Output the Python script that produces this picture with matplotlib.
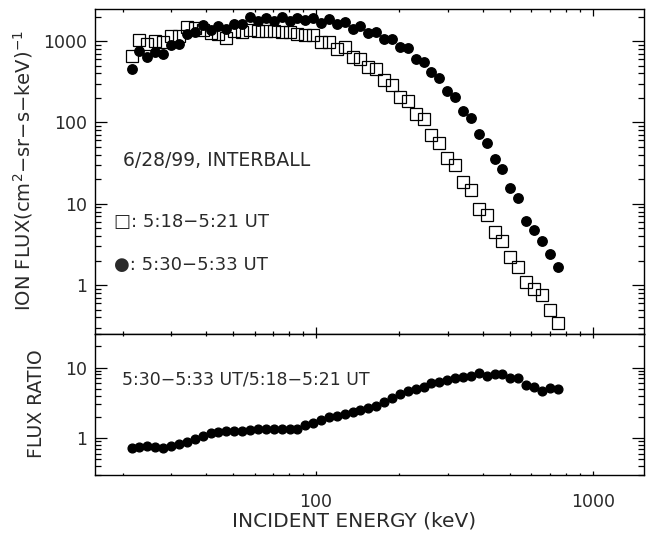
import matplotlib
matplotlib.use("Agg")
import matplotlib.pyplot as plt
from matplotlib.ticker import LogLocator, NullFormatter, FixedLocator, FixedFormatter

# ---------------- data ----------------
energy_keV = [21.6, 23.0, 24.6, 26.3, 28.1, 30.0, 32.0, 34.2, 36.5, 39.0,
              41.6, 44.4, 47.4, 50.6, 54.1, 57.7, 61.7, 65.8, 70.3, 75.1,
              80.2, 85.6, 91.4, 97.6, 104.2, 111.3, 118.9, 126.9, 135.5, 144.7,
              154.5, 165.0, 176.2, 188.1, 200.9, 214.5, 229.1, 244.6, 261.2, 278.9,
              297.8, 318.0, 339.6, 362.6, 387.3, 413.5, 441.6, 471.5, 503.5, 537.7,
              574.1, 613.1, 654.6, 699.0, 746.4]

flux_0518 = [649, 1040, 929, 1000, 972, 1142, 1142, 1486, 1460, 1380,
             1254, 1232, 1101, 1327, 1290, 1380, 1327, 1327, 1327, 1280,
             1290, 1232, 1175, 1175, 972, 972, 807, 844, 636, 608,
             480, 458, 329, 291, 205, 181, 128, 110, 69.5, 56.5,
             37.0, 29.7, 18.5, 14.9, 8.73, 7.22, 4.50, 3.49, 2.22, 1.67,
             1.09, 0.89, 0.75, 0.50, 0.34]

flux_0530 = [458, 753, 636, 733, 700, 885, 929, 1232, 1290, 1560,
             1353, 1516, 1420, 1636, 1603, 1972, 1761, 1938, 1761, 1972,
             1761, 1938, 1795, 1938, 1665, 1884, 1603, 1712, 1420, 1516,
             1254, 1290, 1070, 1070, 844, 820, 608, 552, 416, 351,
             243, 205, 137, 114, 71.4, 55.9, 35.6, 27.1, 15.4, 11.8,
             6.15, 4.72, 3.49, 2.44, 1.67]

flux_ratio = [0.72, 0.74, 0.77, 0.74, 0.73, 0.76, 0.81, 0.88, 0.95, 1.06,
              1.16, 1.22, 1.25, 1.25, 1.26, 1.29, 1.32, 1.32, 1.35, 1.35,
              1.35, 1.35, 1.52, 1.64, 1.79, 1.96, 2.04, 2.18, 2.33, 2.49,
              2.63, 2.84, 3.27, 3.65, 4.21, 4.69, 4.90, 5.24, 5.98, 6.31,
              6.67, 7.05, 7.44, 7.69, 8.32, 7.69, 8.05, 8.05, 7.05, 7.05,
              5.66, 5.35, 4.69, 5.08, 4.90]

top_yticks = [1, 10, 100, 1000]
top_yticklabels = ["1", "10", "100", "1000"]
bot_yticks = [1, 10]
bot_yticklabels = ["1", "10"]
xticks = [100, 1000]
xticklabels = ["100", "1000"]

# ---------------- figure ----------------
W, H = 647, 547
plt.rcParams['font.family'] = ['DejaVu Sans']
plt.rcParams['mathtext.fontset'] = 'dejavusans'
TXT = '#2a2a2a'
FS = 12.5

fig = plt.figure(figsize=(W / 100, H / 100), dpi=100)

def px(x0, y0, x1, y1):
    return [x0 / W, 1 - y1 / H, (x1 - x0) / W, (y1 - y0) / H]

ax1 = fig.add_axes(px(95, 8.7, 644, 334))
ax2 = fig.add_axes(px(95, 334, 644, 474.7))

for ax in (ax1, ax2):
    ax.set_xscale('log')
    ax.set_yscale('log')
    ax.set_xlim(15.9, 1530)
    for s in ax.spines.values():
        s.set_linewidth(1.0)
        s.set_color('black')
    ax.xaxis.set_major_locator(FixedLocator(xticks))
    ax.xaxis.set_minor_locator(LogLocator(base=10, subs=range(2, 10), numticks=20))
    ax.yaxis.set_minor_locator(LogLocator(base=10, subs=range(2, 10), numticks=20))
    ax.xaxis.set_minor_formatter(NullFormatter())
    ax.yaxis.set_minor_formatter(NullFormatter())

# top panel
ax1.set_ylim(0.25, 2500)
ax1.plot(energy_keV, flux_0518, linestyle='none', marker='s', markersize=8.5,
         markerfacecolor='none', markeredgecolor='black', markeredgewidth=0.9)
ax1.plot(energy_keV, flux_0530, linestyle='none', marker='o', markersize=6.8,
         markerfacecolor='black', markeredgecolor='black')
ax1.yaxis.set_major_locator(FixedLocator(top_yticks))
ax1.yaxis.set_major_formatter(FixedFormatter(top_yticklabels))
ax1.tick_params(axis='x', which='both', direction='in', top=True, bottom=True,
                labelbottom=False, width=0.9)
ax1.tick_params(axis='x', which='major', length=5)
ax1.tick_params(axis='x', which='minor', length=2.5)
ax1.tick_params(axis='y', which='both', direction='in', left=True, right=True,
                width=0.9, labelsize=FS, labelcolor=TXT, pad=6)
ax1.tick_params(axis='y', which='major', length=8.5)
ax1.tick_params(axis='y', which='minor', length=4)

# bottom panel
ax2.set_ylim(0.3, 30)
ax2.plot(energy_keV, flux_ratio, linestyle='none', marker='o', markersize=6.3,
         markerfacecolor='black', markeredgecolor='black')
ax2.yaxis.set_major_locator(FixedLocator(bot_yticks))
ax2.yaxis.set_major_formatter(FixedFormatter(bot_yticklabels))
ax2.xaxis.set_major_formatter(FixedFormatter(xticklabels))
ax2.tick_params(axis='x', which='both', direction='in', top=True, bottom=True,
                width=0.9, labelsize=FS, labelcolor=TXT, pad=13)
ax2.tick_params(axis='x', which='major', length=3)
ax2.tick_params(axis='x', which='minor', length=1.5)
ax2.tick_params(axis='y', which='both', direction='in', left=True, right=True,
                width=0.9, labelsize=FS, labelcolor=TXT, pad=6)
ax2.tick_params(axis='y', which='major', length=8.5)
ax2.tick_params(axis='y', which='minor', length=4)

def ftext(x, y, s, **kw):
    kw.setdefault('fontsize', FS)
    kw.setdefault('color', TXT)
    fig.text(x / W, 1 - y / H, s, **kw)

ftext(123, 161, "6/28/99, INTERBALL", va='center', ha='left', fontsize=13.5)
ftext(114, 222, "\u25a1: 5:18\u22125:21 UT", va='center', ha='left', fontsize=13)
ftext(114, 265, "\u25cf: 5:30\u22125:33 UT", va='center', ha='left', fontsize=13)
ftext(122, 379, "5:30\u22125:33 UT/5:18\u22125:21 UT", va='center', ha='left')

ftext(23, 171, r"ION FLUX(cm$^{2}$$-$sr$-$s$-$keV)$^{-1}$", rotation=90,
      va='center', ha='center', fontsize=14)
ftext(37, 404, "FLUX RATIO", rotation=90, va='center', ha='center', fontsize=13.5)
ftext(354, 521, "INCIDENT ENERGY (keV)", va='center', ha='center', fontsize=14.5)

fig.savefig("out.png", dpi=100)
